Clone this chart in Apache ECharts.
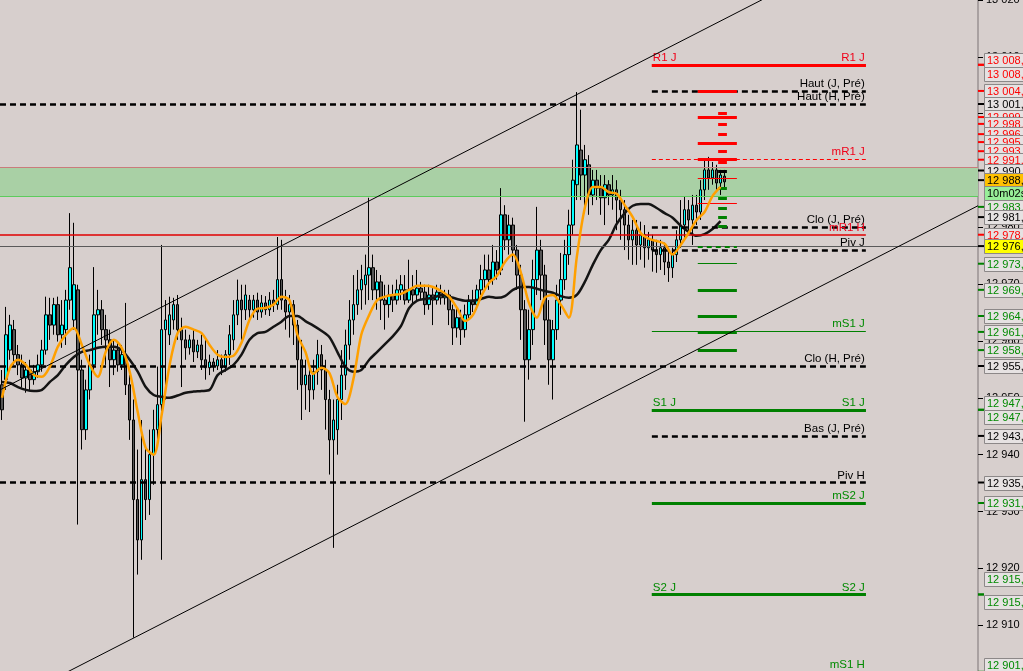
<!DOCTYPE html>
<html><head><meta charset="utf-8">
<script src="https://cdn.jsdelivr.net/npm/echarts@6/dist/echarts.min.js"></script>
<style>html,body{margin:0;padding:0;background:#d7cfcd;overflow:hidden}#c{width:1023px;height:671px}</style>
</head><body><div id="c"></div>
<script>
// ---------- DATA ----------
const candleOpen = [
12952.3,12953.2,12958.4,12962.0,12957.6,12955.8,12953.5,12954.9,12953.2,12954.6,
12955.8,12958.4,12964.6,12962.8,12966.4,12961.1,12962.0,12967.2,12963.7,12969.0,
12954.9,12944.4,12951.4,12955.8,12964.6,12965.5,12962.0,12960.2,12956.7,12958.4,
12955.8,12957.6,12952.3,12946.1,12932.1,12925.0,12935.6,12932.1,12940.0,12944.4,
12948.8,12962.0,12961.1,12963.7,12966.4,12962.0,12960.2,12958.8,12960.2,12958.1,
12959.3,12956.7,12955.3,12956.3,12955.6,12956.7,12955.3,12957.6,12960.2,12964.6,
12967.2,12965.5,12967.2,12965.5,12967.2,12965.1,12966.7,12965.5,12967.2,12966.4,
12970.8,12967.2,12965.1,12966.4,12962.8,12956.7,12952.3,12954.0,12951.4,12954.6,
12957.6,12954.9,12949.7,12942.6,12944.4,12949.7,12954.0,12959.3,12963.7,12966.4,
12969.0,12969.9,12971.6,12972.9,12969.0,12970.4,12967.2,12966.4,12968.1,12967.2,
12969.0,12969.0,12967.2,12969.0,12968.1,12969.3,12968.6,12966.4,12968.1,12967.2,
12968.6,12967.6,12968.1,12965.5,12962.3,12964.1,12962.0,12964.6,12967.2,12966.4,
12969.0,12970.8,12972.5,12970.8,12973.9,12972.5,12982.2,12977.8,12980.4,12976.0,
12971.6,12965.5,12956.7,12962.0,12970.8,12976.0,12971.6,12963.7,12956.7,12962.0,
12967.2,12970.8,12975.2,12980.4,12987.5,12993.6,12989.2,12991.0,12985.7,12988.3,
12986.9,12985.2,12987.5,12985.7,12986.6,12984.8,12983.1,12980.4,12977.8,12979.5,
12976.9,12978.7,12976.4,12977.8,12976.0,12975.2,12976.4,12973.9,12972.9,12975.2,
12977.8,12980.4,12983.1,12981.3,12983.9,12982.7,12986.6,12990.1,12988.7,12990.1,
12987.8,12989.0];
const candleClose = [
12947.9,12961.1,12962.8,12957.6,12955.8,12953.5,12954.9,12953.2,12954.6,12955.8,
12958.4,12964.6,12962.8,12966.4,12961.1,12962.8,12967.2,12972.9,12969.9,12954.9,
12944.4,12951.4,12955.8,12964.6,12965.5,12962.0,12960.2,12956.7,12958.4,12955.8,
12957.6,12952.3,12946.1,12932.1,12925.0,12935.6,12932.1,12940.0,12944.4,12948.8,
12962.0,12963.7,12964.6,12966.4,12962.0,12960.2,12958.8,12960.2,12958.1,12959.3,
12956.7,12955.3,12956.3,12955.6,12956.7,12955.3,12957.6,12961.1,12964.6,12967.2,
12965.5,12968.1,12965.5,12967.2,12965.1,12966.7,12965.5,12967.2,12966.4,12970.8,
12967.2,12965.1,12966.4,12962.8,12956.7,12952.3,12954.0,12951.4,12954.6,12957.6,
12954.9,12949.7,12942.6,12946.1,12949.7,12954.0,12959.3,12963.7,12966.4,12969.0,
12970.8,12971.6,12972.9,12969.0,12970.4,12967.2,12966.4,12968.1,12967.2,12969.0,
12969.9,12967.2,12969.0,12968.1,12969.3,12968.6,12966.4,12968.1,12967.2,12968.6,
12967.6,12968.1,12965.5,12962.3,12964.1,12962.0,12964.6,12967.2,12966.4,12969.0,
12970.8,12972.5,12970.8,12973.9,12972.5,12982.2,12977.8,12980.4,12976.0,12971.6,
12965.5,12956.7,12962.0,12970.8,12976.0,12971.6,12963.7,12956.7,12962.0,12967.2,
12970.8,12975.2,12980.4,12988.3,12994.5,12989.2,12991.9,12985.7,12988.3,12986.9,
12985.2,12987.5,12985.7,12986.6,12984.8,12983.1,12980.4,12977.8,12979.5,12976.9,
12978.7,12976.4,12977.8,12976.0,12975.2,12976.4,12973.9,12972.9,12975.2,12977.8,
12980.4,12983.1,12981.3,12983.9,12982.7,12986.6,12990.1,12988.7,12990.1,12987.8,
12989.2,12988.0];
const candleLow = [
12946.1,12951.4,12956.7,12955.8,12954.0,12951.8,12950.9,12951.4,12952.3,12953.5,
12954.6,12957.6,12960.2,12961.1,12959.9,12958.8,12959.3,12965.5,12962.0,12927.7,
12940.9,12942.6,12949.7,12954.9,12961.1,12959.3,12955.8,12951.9,12954.0,12954.6,
12954.9,12950.5,12942.6,12907.8,12918.9,12921.5,12928.5,12929.4,12934.7,12942.6,
12921.5,12949.7,12959.3,12962.0,12960.2,12951.9,12956.7,12957.6,12956.3,12957.0,
12954.9,12953.2,12954.0,12954.6,12954.9,12954.0,12954.6,12955.8,12958.4,12962.8,
12960.2,12963.7,12963.7,12964.1,12963.7,12964.1,12964.6,12964.4,12965.1,12965.5,
12965.5,12962.0,12960.6,12959.3,12951.4,12946.1,12947.9,12947.5,12949.7,12952.3,
12951.4,12944.4,12936.5,12923.6,12940.0,12946.1,12951.4,12956.7,12961.1,12964.6,
12965.5,12966.4,12967.2,12967.2,12965.5,12963.7,12962.0,12964.1,12965.1,12966.4,
12967.2,12966.4,12966.7,12966.4,12967.2,12967.2,12964.6,12965.5,12962.8,12966.4,
12966.4,12966.4,12962.8,12959.3,12960.6,12959.3,12960.6,12963.7,12965.1,12965.5,
12968.1,12969.0,12969.0,12969.9,12970.8,12971.6,12976.0,12975.2,12973.9,12969.0,
12960.2,12945.8,12953.2,12959.3,12968.1,12967.2,12959.3,12952.3,12949.7,12960.2,
12964.6,12969.0,12973.4,12978.7,12984.8,12984.8,12983.1,12982.2,12983.9,12984.8,
12982.2,12980.4,12983.9,12983.1,12979.5,12977.8,12976.0,12974.3,12973.4,12973.4,
12974.3,12972.9,12974.3,12972.2,12972.0,12972.5,12971.6,12970.4,12971.1,12973.9,
12976.4,12977.8,12978.7,12976.9,12980.4,12981.3,12984.8,12986.6,12987.5,12986.6,
12985.7,12986.9];
const candleHigh = [
12954.9,12966.0,12964.6,12963.7,12959.3,12957.6,12956.3,12956.7,12955.8,12957.6,
12960.2,12967.8,12967.6,12967.6,12967.8,12967.2,12969.0,12982.5,12980.8,12969.9,
12956.7,12953.2,12957.6,12973.0,12969.0,12967.2,12964.6,12962.0,12960.2,12959.7,
12959.3,12966.7,12954.0,12949.7,12940.9,12946.1,12941.7,12944.4,12947.9,12955.5,
12976.9,12967.2,12967.8,12967.6,12968.1,12964.1,12962.0,12961.1,12962.0,12960.2,
12961.1,12960.2,12957.6,12957.0,12958.4,12957.6,12958.4,12962.8,12967.2,12970.8,
12969.9,12969.9,12968.1,12968.1,12968.5,12968.1,12967.9,12968.6,12969.0,12978.3,
12977.8,12969.0,12968.1,12967.2,12963.7,12960.2,12956.7,12955.8,12956.7,12960.2,
12959.3,12956.7,12951.4,12949.7,12952.3,12958.4,12962.0,12967.2,12971.6,12972.5,
12973.4,12975.2,12985.2,12975.2,12972.5,12971.6,12969.9,12969.9,12969.9,12970.8,
12971.6,12971.6,12974.3,12971.6,12972.5,12970.4,12969.9,12969.9,12969.3,12969.9,
12969.9,12969.0,12969.0,12966.4,12965.8,12965.5,12966.4,12968.1,12969.0,12969.9,
12973.4,12975.2,12975.2,12976.9,12976.0,12986.9,12983.9,12982.2,12981.7,12976.9,
12973.4,12967.2,12965.5,12974.3,12983.6,12977.8,12973.4,12967.2,12963.7,12969.9,
12975.5,12977.8,12983.1,12991.9,13003.8,13000.7,12994.5,12992.7,12990.1,12990.1,
12989.2,12989.2,12988.3,12989.2,12988.3,12986.6,12984.8,12982.2,12981.3,12981.3,
12981.0,12980.4,12979.2,12978.7,12977.8,12977.8,12977.3,12976.0,12976.4,12979.5,
12984.8,12985.4,12984.8,12985.7,12985.7,12988.3,12991.9,12992.4,12991.5,12991.0,
12990.1,12990.1];
// orange (fast) and black (slow) averages, one value every 2 candles
const fastMA = [
12950.0,12955.3,12956.7,12955.8,12954.0,12953.7,12955.5,12959.0,12961.1,12962.3,
12959.3,12955.8,12953.7,12958.1,12960.2,12958.8,12954.6,12947.5,12941.2,12940.0,
12947.0,12955.8,12961.4,12962.5,12962.0,12961.4,12959.3,12957.6,12957.2,12957.4,
12959.7,12963.7,12965.7,12965.8,12966.4,12967.8,12967.2,12961.1,12958.1,12954.2,
12955.3,12954.4,12950.2,12948.9,12953.2,12961.1,12964.6,12967.2,12967.8,12968.1,
12968.3,12969.0,12969.7,12969.7,12969.5,12968.8,12967.8,12965.8,12963.5,12964.6,
12967.8,12970.2,12971.5,12973.9,12975.2,12972.0,12966.7,12964.1,12967.6,12968.1,
12966.4,12964.1,12974.8,12983.4,12987.1,12987.1,12986.2,12985.9,12983.9,12981.8,
12979.0,12978.0,12977.6,12977.1,12975.2,12976.9,12979.0,12981.3,12982.7,12985.5,
12987.1];
const slowMA = [
12952.8,12952.6,12951.9,12951.4,12951.2,12951.4,12952.8,12954.0,12955.8,12957.2,
12958.1,12958.4,12958.8,12959.0,12959.0,12958.4,12956.7,12954.6,12951.9,12950.5,
12950.2,12950.0,12950.4,12950.9,12951.1,12951.2,12951.4,12954.0,12954.9,12955.8,
12957.6,12960.2,12961.4,12961.6,12962.5,12963.4,12964.4,12964.4,12963.5,12962.7,
12961.8,12960.7,12958.1,12955.5,12954.6,12954.9,12956.7,12958.1,12959.5,12960.9,
12962.7,12965.8,12967.1,12967.4,12967.6,12968.1,12967.8,12967.4,12967.1,12967.1,
12967.4,12967.8,12967.6,12967.9,12969.0,12969.5,12969.5,12969.2,12968.8,12968.5,
12967.9,12967.6,12968.1,12970.4,12973.4,12976.0,12977.8,12980.6,12982.5,12983.8,
12984.1,12984.1,12983.4,12982.5,12981.7,12980.3,12979.2,12978.5,12978.8,12979.7,
12981.1];
// pivot / reference levels
const levelNames  = ['R1 J','Haut (J, Pré)','Haut (H, Pré)','mR1 J','Clo (J, Pré)','mR1 H','Piv J','mS1 J','Clo (H, Pré)','S1 J','Bas (J, Pré)','Piv H','mS2 J','S2 J','mS1 H'];
const levelValues = [13008.6,13004.0,13001.7,12992.0,12980.1,12978.7,12976.0,12961.8,12955.6,12947.9,12943.3,12935.1,12931.5,12915.4,12901.8];
const levelKinds  = ['R','k','k','rd','k','rt','k','gt','k','G','k','k','G','G','gt'];
const twoSided = ['R1 J','S1 J','S2 J'];
// price profile ticks at right of the last candle
const profRedLong = [13004.0,12999.4,12994.8,12991.9];
const profRedShort = [13000.1,12998.2,12996.4,12993.4,12991.5];
const profRedThin = [12988.7,12984.3];
const profBlackShort = [12989.9];
const profGreenShort = [12986.9,12985.2,12983.4,12981.8,12980.2];
const profGreenDashed = [12976.6];
const profGreenThin = [12973.6];
const profGreenLong = [12969.0,12964.4,12961.6,12958.4];
// zone, current price, channel
const zoneTop = 12990.6, zoneBottom = 12985.5;
const currentPrice = 12976.7;
const channelUpper = [[0,12951.4],[245,13039.5]];
const channelLower = [[0,12895.7],[245,12983.8]];
// right-axis price tags
const tagValues = [13008.6,13008.6,13004.0,13001.7,12999.4,12998.2,12996.4,12995.0,12993.4,12991.9,12990.0,12988.3,12988.3,12983.6,12981.8,12978.7,12976.7,12973.6,12969.0,12964.4,12961.6,12958.4,12955.6,12947.9,12947.9,12943.3,12935.1,12931.5,12915.4,12915.4,12901.8];
const tagKinds  = ['r','r','r','k','r','r','r','r','r','r','k','last','timer','g','k','r','cur','g','g','g','g','g','k','g','g','k','k','g','g','g','g'];
const timerText = '10m02s';
const yTicks = {min:12900, max:13020, interval:10};

// ---------- CHART ----------
const N = 245;                 // slots on the time axis
const dayStart = 163.3, levelEnd = 216.9;
const profL = 174.8, profR = 184.6, profSL = 179.9, profSR = 182.1;
const tagNudge = {0:-5, 1:9, 12:13, 23:-7, 24:7, 28:-15, 29:8, 30:-7};
const FONT = '"Liberation Sans", Arial, sans-serif';

const categories = Array.from({length:N}, (_, i) => String(i));
const candles = candleOpen.map((o, i) => [o, candleClose[i], candleLow[i], candleHigh[i]]);
const fastLine = fastMA.map((v, n) => [2*n + 0.5, v]);
const slowLine = slowMA.map((v, n) => [2*n + 0.5, v]);

function fmtPrice(v){
  const s = v.toFixed(1).split('.');
  return s[0].replace(/\B(?=(\d{3})+(?!\d))/g, ' ') + ',' + s[1];
}

const kindStyle = {
  R:  {line:{color:'#ff0000', width:3, type:'solid'}, text:'#f00018'},
  k:  {line:{color:'#000000', width:2.5, type:[6,4]}, text:'#000000'},
  rd: {line:{color:'#ff0000', width:1, type:[4,3]}, text:'#f00018'},
  rt: {line:{color:'#e00000', width:1.5, type:'solid'}, text:'#f00018'},
  gt: {line:{color:'#008000', width:1.2, type:'solid'}, text:'#008a00'},
  G:  {line:{color:'#008000', width:3, type:'solid'}, text:'#008a00'}
};

const levelMarks = [];
levelNames.forEach((name, k) => {
  const st = kindStyle[levelKinds[k]];
  const x0 = /\(H,|\sH$/.test(name) ? 0 : dayStart;
  const v = levelValues[k];
  const lab = pos => ({show:true, position:pos, formatter:name, color:st.text, fontSize:11.5, fontFamily:FONT, distance:[1, 1]});
  levelMarks.push([{coord:[x0, v], lineStyle:st.line, label:lab('insideEndTop')}, {coord:[levelEnd, v]}]);
  if (twoSided.includes(name)) levelMarks.push([{coord:[x0, v], lineStyle:st.line, label:lab('insideStartTop')}, {coord:[levelEnd, v]}]);
});
// zone borders + current price line
levelMarks.push({yAxis:zoneTop, lineStyle:{color:'#c97c7c', width:1, type:'solid'}});
levelMarks.push({yAxis:zoneBottom, lineStyle:{color:'#5ccc5c', width:1, type:'solid'}});
levelMarks.push({yAxis:currentPrice, lineStyle:{color:'#5a5a5a', width:1, type:'solid'}});

const profMarks = [];
function seg(vals, x0, x1, line){ vals.forEach(v => profMarks.push([{coord:[x0, v], lineStyle:line}, {coord:[x1, v]}])); }
seg(profRedLong, profL, profR, {color:'#ff0000', width:3, type:'solid'});
seg(profRedShort, profSL, profSR, {color:'#ff0000', width:3, type:'solid'});
seg(profRedThin, profL, profR, {color:'#ff0000', width:1.2, type:'solid'});
seg(profBlackShort, profSL, profSR, {color:'#000000', width:3, type:'solid'});
seg(profGreenShort, profSL, profSR, {color:'#008000', width:3, type:'solid'});
seg(profGreenDashed, profL, profR, {color:'#008000', width:2, type:[5,4]});
seg(profGreenThin, profL, profR, {color:'#008000', width:1.2, type:'solid'});
seg(profGreenLong, profL, profR, {color:'#008000', width:3, type:'solid'});

const tagStyle = {
  r:    {color:'#ff0000', bg:'#e6e2e2', tick:'#ff0000'},
  g:    {color:'#008a00', bg:'#e6e2e2', tick:'#008000'},
  k:    {color:'#000000', bg:'#e6e2e2', tick:'#000000'},
  last: {color:'#000000', bg:'#ffc000', tick:'#000000'},
  cur:  {color:'#000000', bg:'#ffff00', tick:'#000000'},
  timer:{color:'#000000', bg:'#98ee98', tick:null}
};

const chart = echarts.init(document.getElementById('c'));
chart.setOption({
  animation:false,
  backgroundColor:'#d7cfcd',
  grid:{left:0, right:45, top:0, bottom:-11, containLabel:false, outerBoundsMode:'none'},
  xAxis:[
    {type:'category', data:categories, boundaryGap:true, show:false},
    {type:'value', min:0, max:N, show:false}
  ],
  yAxis:{
    type:'value', position:'right', min:yTicks.min, max:yTicks.max, interval:yTicks.interval,
    splitLine:{show:false},
    axisLine:{show:true, onZero:false, lineStyle:{color:'#9a9292', width:1.5}},
    axisTick:{show:true, length:5, lineStyle:{color:'#000'}},
    axisLabel:{show:true, margin:8, color:'#000', fontSize:11, fontFamily:FONT,
      formatter:v => String(v).replace(/\B(?=(\d{3})+(?!\d))/g, ' ')}
  },
  series:[
    {type:'line', xAxisIndex:1, data:[], z:1, silent:true,
      markArea:{silent:true, itemStyle:{color:'#a9d0a5', opacity:1}, data:[[{yAxis:zoneTop}, {yAxis:zoneBottom}]]},
      markLine:{silent:true, symbol:['none','none'], label:{show:false}, emphasis:{disabled:true}, data:levelMarks}},
    {type:'line', xAxisIndex:1, data:[], z:2, silent:true,
      markLine:{silent:true, symbol:['none','none'], label:{show:false}, emphasis:{disabled:true}, data:profMarks}},
    {type:'candlestick', xAxisIndex:0, data:candles, barWidth:3, z:3, silent:true,
      itemStyle:{color:'#00ffff', color0:'#555555', borderColor:'#000000', borderColor0:'#000000', borderWidth:1}},
    {type:'line', xAxisIndex:1, data:slowLine, showSymbol:false, smooth:0.3, z:4, silent:true,
      lineStyle:{color:'#141414', width:2.5}},
    {type:'line', xAxisIndex:1, data:fastLine, showSymbol:false, smooth:0.3, z:5, silent:true,
      lineStyle:{color:'#ffa000', width:2.5}},
    {type:'line', xAxisIndex:1, data:channelUpper, showSymbol:false, z:6, silent:true,
      lineStyle:{color:'#000', width:1}},
    {type:'line', xAxisIndex:1, data:channelLower, showSymbol:false, z:6, silent:true,
      lineStyle:{color:'#000', width:1}},
    {type:'custom', xAxisIndex:1, clip:false, z:20, silent:true,
      data:tagValues.map(v => [N, v]),
      renderItem:(params, api) => {
        const i = params.dataIndex;
        const v = tagValues[i];
        const kind = tagKinds[i];
        const st = tagStyle[kind];
        const pt = api.coord([N, v]);
        const y = Math.round(pt[1] + (tagNudge[i] || 0));
        const x = Math.round(pt[0]);
        const ch = [];
        if (st.tick) ch.push({type:'line', shape:{x1:x, y1:pt[1], x2:x+6, y2:pt[1]}, style:{stroke:st.tick, lineWidth:2}});
        ch.push({type:'rect', shape:{x:x+6.5, y:y-6.5, width:60, height:14}, style:{fill:st.bg, stroke:'#8c8888', lineWidth:1}});
        ch.push({type:'text', style:{x:x+9, y:y+0.5, text:kind === 'timer' ? timerText : fmtPrice(v), fill:st.color,
          font:'11px ' + FONT, verticalAlign:'middle', align:'left'}});
        return {type:'group', children:ch};
      }}
  ]
});
</script></body></html>
